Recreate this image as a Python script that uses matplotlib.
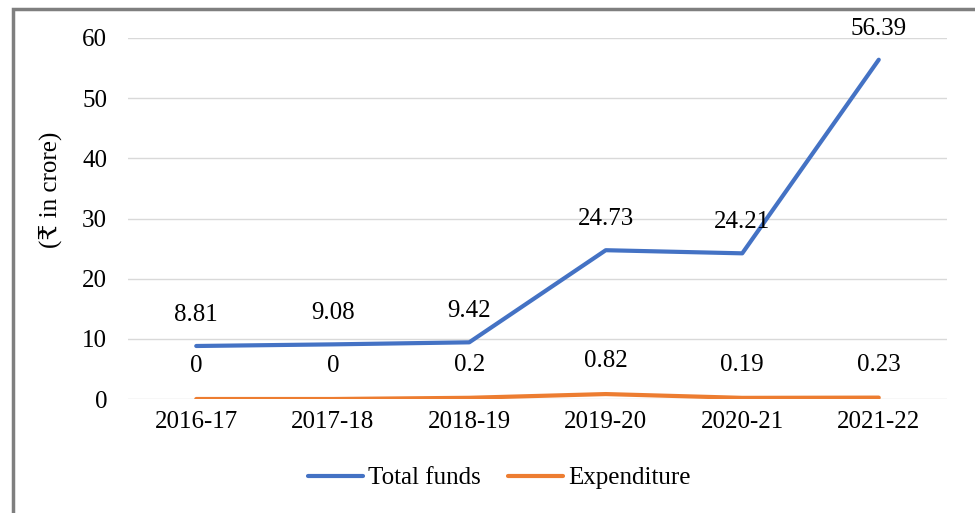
import matplotlib
matplotlib.use("Agg")
import matplotlib.pyplot as plt
from matplotlib.patches import Rectangle

plt.rcParams["font.family"] = ["Liberation Serif", "DejaVu Serif", "DejaVu Sans"]

years = ["2016-17", "2017-18", "2018-19", "2019-20", "2020-21", "2021-22"]
total_funds = [8.81, 9.08, 9.42, 24.73, 24.21, 56.39]
expenditure = [0, 0, 0.2, 0.82, 0.19, 0.23]
total_labels = ["8.81", "9.08", "9.42", "24.73", "24.21", "56.39"]
exp_labels = ["0", "0", "0.2", "0.82", "0.19", "0.23"]

fs = 18

fig = plt.figure(figsize=(9.75, 5.13), dpi=100)
ax = fig.add_axes([128 / 975, 1 - 399 / 513, 819 / 975, 361 / 513])

x = list(range(len(years)))
ax.plot(x, total_funds, color="#4472c4", lw=3, label="Total funds",
        solid_capstyle="round")
ax.plot(x, expenditure, color="#ed7d31", lw=3, label="Expenditure",
        solid_capstyle="round")

for xi, v, t in zip(x, total_funds, total_labels):
    ax.annotate(t, (xi, v), xytext=(0, 20), textcoords="offset pixels",
                ha="center", va="bottom", fontsize=fs)
for xi, v, t in zip(x, expenditure, exp_labels):
    ax.annotate(t, (xi, v), xytext=(0, 22), textcoords="offset pixels",
                ha="center", va="bottom", fontsize=fs)

ax.set_xlim(-0.5, len(years) - 0.5)
ax.set_ylim(0, 60)
ax.set_yticks(range(0, 61, 10))
ax.set_xticks(x)
ax.set_xticklabels(years)
ax.tick_params(axis="both", length=0, labelsize=fs)
ax.tick_params(axis="y", pad=15)
ax.tick_params(axis="x", pad=9)
ax.grid(axis="y", color="#d9d9d9", lw=1)
ax.set_axisbelow(True)
for s in ax.spines.values():
    s.set_visible(False)
ax.set_ylabel("(₹ in crore)", fontsize=fs)
ax.yaxis.set_label_coords(-66 / 819, 0.579)

ax.legend(loc="center", bbox_to_anchor=(499 / 975, 1 - 478 / 513),
          bbox_transform=fig.transFigure, ncol=2, frameon=False,
          fontsize=fs, handlelength=2.2, columnspacing=1.1, handletextpad=0.2)

fig.patches.append(Rectangle((13 / 975, -0.05), 1.0, 1 - 9 / 513 + 0.05,
                             transform=fig.transFigure, fill=False,
                             edgecolor="#7f7f7f", lw=2.5))

fig.savefig("out.png", dpi=100)
